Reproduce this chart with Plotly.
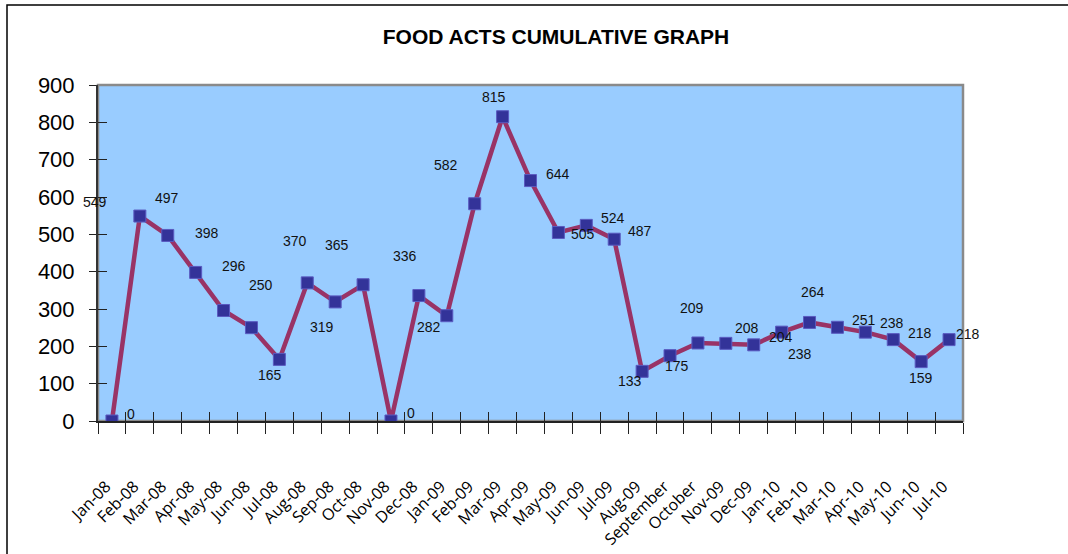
import plotly.graph_objects as go

months = ["Jan-08", "Feb-08", "Mar-08", "Apr-08", "May-08", "Jun-08", "Jul-08", "Aug-08",
          "Sep-08", "Oct-08", "Nov-08", "Dec-08", "Jan-09", "Feb-09", "Mar-09", "Apr-09",
          "May-09", "Jun-09", "Jul-09", "Aug-09", "September", "October", "Nov-09", "Dec-09",
          "Jan-10", "Feb-10", "Mar-10", "Apr-10", "May-10", "Jun-10", "Jul-10"]
food_acts = [0, 549, 497, 398, 296, 250, 165, 370, 319, 365, 0, 336, 282, 582, 815, 644,
             505, 524, 487, 133, 175, 209, 208, 204, 238, 264, 251, 238, 218, 159, 218]
y_ticks = [0, 100, 200, 300, 400, 500, 600, 700, 800, 900]

# label offsets (pixels) to mimic the reference's label placement
label_dx = [19, -45, -1, 11, 10, 10, -9, -12, -13, -26, 20, -14, -18, -29, -9, 27,
            25, 27, 26, -12, 7, -6, 21, 27, 18, 3, 27, 27, 27, 0, 19]
label_dy = [-7, -14, -37, -39, -44, -43, 16, -42, 25, -40, -8, -40, 11, -39, -20, -7,
            2, -7, -8, 10, 10, -35, -15, -8, 22, -30, -7, -9, -7, 16, -6]

W, H = 1068, 554
ml, mr, mt, mb = 98, 105, 85, 133
pw, ph = W - ml - mr, H - mt - mb

fig = go.Figure()
fig.add_trace(go.Scatter(
    x=months, y=food_acts, mode="lines+markers",
    line=dict(color="#993366", width=4.5),
    marker=dict(symbol="square", size=12, color="#333399",
                line=dict(color="#5a5ac0", width=1)),
    hoverinfo="x+y", showlegend=False,
))
# invisible trace on overlay axes (inside tick marks)
fig.add_trace(go.Scatter(
    x=months, y=food_acts, mode="markers", xaxis="x2", yaxis="y2",
    marker=dict(size=1, opacity=0), hoverinfo="skip", showlegend=False,
))

for i, (m, v) in enumerate(zip(months, food_acts)):
    fig.add_annotation(x=m, y=v, text=str(v), showarrow=False,
                       xshift=label_dx[i], yshift=-label_dy[i],
                       font=dict(family="Liberation Sans, Arial", size=14, color="#111"))

common_x = dict(type="category", categoryorder="array", categoryarray=months,
                range=[-0.5, len(months) - 0.5], tickson="boundaries")
fig.update_layout(
    width=W, height=H,
    margin=dict(l=ml, r=mr, t=mt, b=mb, autoexpand=False),
    paper_bgcolor="white", plot_bgcolor="#99CCFF",
    title=dict(text="<b>FOOD ACTS CUMULATIVE GRAPH</b>", x=556 / W, xanchor="center",
               y=1 - 37 / H, yanchor="middle",
               font=dict(family="Liberation Sans, Arial", size=21, color="black")),
    xaxis=dict(**common_x, showgrid=False, zeroline=False,
               showline=True, linecolor="#222", linewidth=2,
               ticks="outside", ticklen=11, tickwidth=1.3, tickcolor="#222",
               tickmode="array", tickvals=months,
               ticktext=[m + "\u00a0\u00a0" for m in months],
               tickangle=-45, ticklabelstandoff=42,
               tickfont=dict(family="Open Sans, Noto Sans", size=16, color="black")),
    yaxis=dict(range=[0, 900], tickvals=y_ticks, showgrid=False, zeroline=False,
               showline=True, linecolor="#333", linewidth=2,
               ticks="outside", ticklen=7, tickwidth=1.3, tickcolor="#222",
               ticklabelstandoff=10,
               tickfont=dict(family="Liberation Sans, Arial", size=22, color="black")),
    xaxis2=dict(**common_x, overlaying="x", anchor="y", showgrid=False, zeroline=False,
                showline=False, ticks="inside", ticklen=9, tickwidth=1.3, tickcolor="#222",
                showticklabels=False),
    yaxis2=dict(range=[0, 900], tickvals=y_ticks, overlaying="y", anchor="x",
                showgrid=False, zeroline=False, showline=False,
                ticks="inside", ticklen=9, tickwidth=1.3, tickcolor="#222",
                showticklabels=False),
)

# plot area border (gray)
fig.add_shape(type="rect", xref="x domain", yref="y domain", x0=0, x1=1, y0=0, y1=1,
              line=dict(color="#8a8a8a", width=2.5), layer="below")
# outer chart frame
fig.add_shape(type="rect", xref="paper", yref="paper",
              x0=(7 - ml) / pw, x1=(W + 10 - ml) / pw,
              y0=(H - mb - (H + 10)) / ph, y1=(H - mb - 5) / ph,
              line=dict(color="black", width=1.5))

fig.write_html("out.html", config={"displayModeBar": False},
               post_script="document.body.style.margin='0';document.body.style.overflow='hidden';")
